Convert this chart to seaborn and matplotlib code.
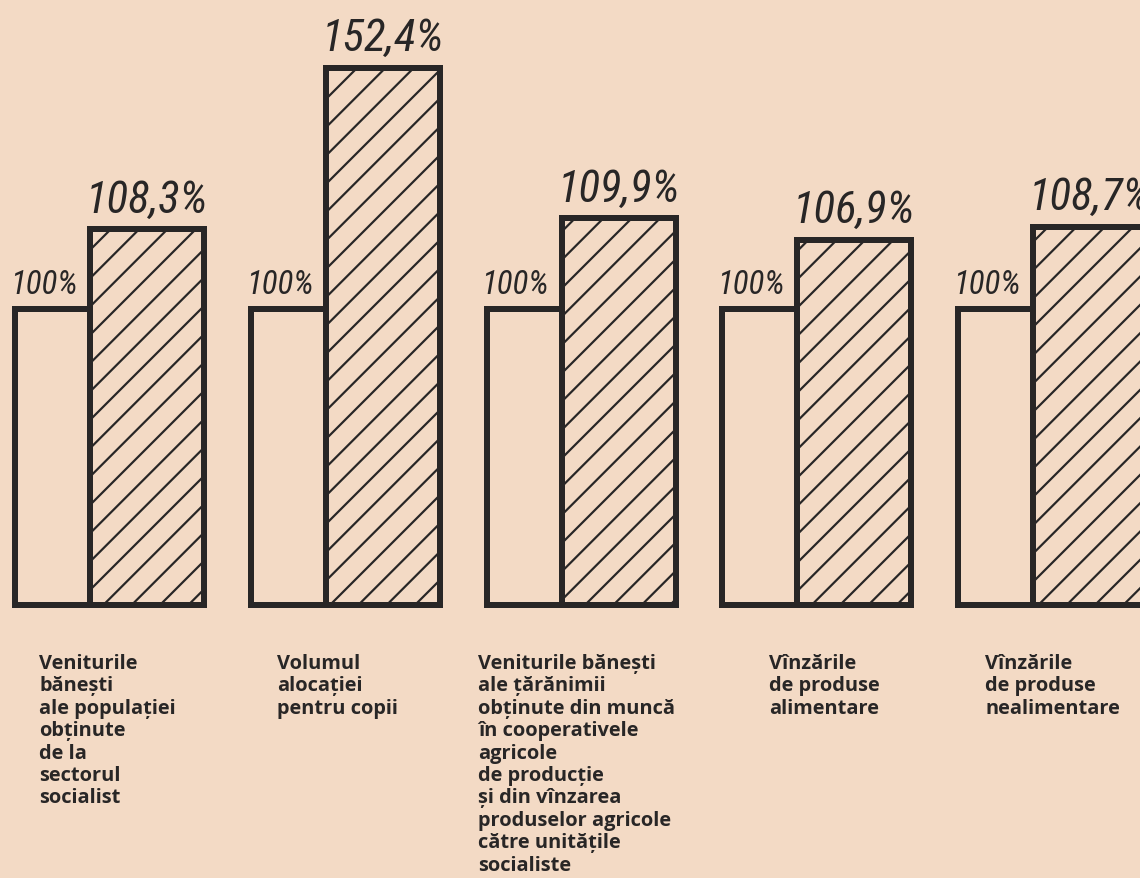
import matplotlib
matplotlib.use("Agg")
import matplotlib.pyplot as plt
from matplotlib import font_manager
import numpy as np
import pandas as pd
import seaborn as sns

# ----------------------------
# Data
# ----------------------------
categories = [
    "Veniturile\nbănești\nale populației\nobținute\nde la\nsectorul\nsocialist",
    "Volumul\nalocației\npentru copii",
    "Veniturile bănești\nale țărănimii\nobținute din muncă\nîn cooperativele\nagricole\nde producție\nși din vînzarea\nproduselor agricole\ncătre unitățile\nsocialiste",
    "Vînzările\nde produse\nalimentare",
    "Vînzările\nde produse\nnealimentare",
]
series = ["an de bază", "an curent"]
base_values = [100, 100, 100, 100, 100]
current_values = [108.3, 152.4, 109.9, 106.9, 108.7]

# ----------------------------
# Style / layout
# ----------------------------
DPI = 170
W, H = 1140, 878
PT = 72 / DPI            # one pixel in points
BG = "#f3dac5"
INK = "#282626"

sns.set_theme(style="white")
plt.rcParams["hatch.color"] = INK
plt.rcParams["hatch.linewidth"] = 2.2 * PT

available = {f.name for f in font_manager.fontManager.ttflist}
num_font = ["DejaVu Sans"]
for cand in ["Roboto Condensed", "Liberation Sans Narrow", "DejaVu Sans Condensed"]:
    if cand in available:
        num_font = [cand, "DejaVu Sans"]
        break
label_font = ["Open Sans", "DejaVu Sans"]

# the original drawing uses a compressed vertical scale:
# drawn height (px) = OFFSET + SCALE * ln(value - SHIFT)
SHIFT, SCALE, OFFSET = 90.0, 131.6, -7.0


def fwd(v):
    return OFFSET + SCALE * np.log(np.clip(np.asarray(v, dtype=float) - SHIFT, 1e-9, None))


def inv(h):
    return SHIFT + np.exp((np.asarray(h, dtype=float) - OFFSET) / SCALE)


BASE = float(inv(0))
BOTTOM_PX = 605           # bar baseline, pixels from top
GROUP_PX = 235.75         # distance between groups
FIRST_PX = 15             # left edge of the first group
START = -0.4              # group left edge relative to category index
WHITE_W = 75 / GROUP_PX
HATCH_W = 114 / GROUP_PX
label_offsets = [0.102, 0.110, -0.036, 0.199, 0.115]

df = pd.DataFrame({
    "grupa": categories * 2,
    "serie": [series[0]] * len(categories) + [series[1]] * len(categories),
    "valoare": base_values + current_values,
})
df["inaltime"] = df["valoare"] - BASE

fig = plt.figure(figsize=(W / DPI, H / DPI), dpi=DPI, facecolor=BG)
ax = fig.add_axes([0, 0, 1, 1])
ax.set_facecolor(BG)

sns.barplot(data=df, x="grupa", y="inaltime", hue="serie", order=categories,
            hue_order=series, palette=[BG, BG], saturation=1, errorbar=None, width=0.8,
            edgecolor=INK, linewidth=6 * PT, bottom=BASE, legend=False, ax=ax)

# white bar narrower than the hatched one, both touching
for i, bar in enumerate(ax.containers[0]):
    bar.set_x(i + START)
    bar.set_width(WHITE_W)
    bar.set_facecolor("none")
for i, bar in enumerate(ax.containers[1]):
    bar.set_x(i + START + WHITE_W)
    bar.set_width(HATCH_W)
    bar.set_facecolor("none")
    bar.set_hatch("//")

ax.set_yscale("function", functions=(fwd, inv))
ax.set_ylim(inv(-(H - BOTTOM_PX)), inv(BOTTOM_PX))
ax.set_xlim(-FIRST_PX / GROUP_PX + START, (W - FIRST_PX) / GROUP_PX + START)
ax.axis("off")

for i, (b, v) in enumerate(zip(base_values, current_values)):
    ax.annotate(f"{b}%", (i + START, b), xytext=(-5 * PT, 15 * PT),
                textcoords="offset points", ha="left", va="baseline",
                fontsize=33 * PT, family=num_font, style="italic", color=INK)
    ax.annotate(f"{v:.1f}%".replace(".", ","), (i + START + WHITE_W + HATCH_W / 2, v),
                xytext=(0, 17 * PT), textcoords="offset points", ha="center",
                va="baseline", fontsize=45 * PT, family=num_font, style="italic",
                color=INK)
    ax.annotate(categories[i], (i + START + label_offsets[i], BASE),
                xytext=(0, -49 * PT), textcoords="offset points", ha="left",
                va="top", fontsize=20 * PT, family=label_font,
                fontweight="bold", color=INK, linespacing=1.16)

fig.savefig("out.png", dpi=DPI, facecolor=BG)
